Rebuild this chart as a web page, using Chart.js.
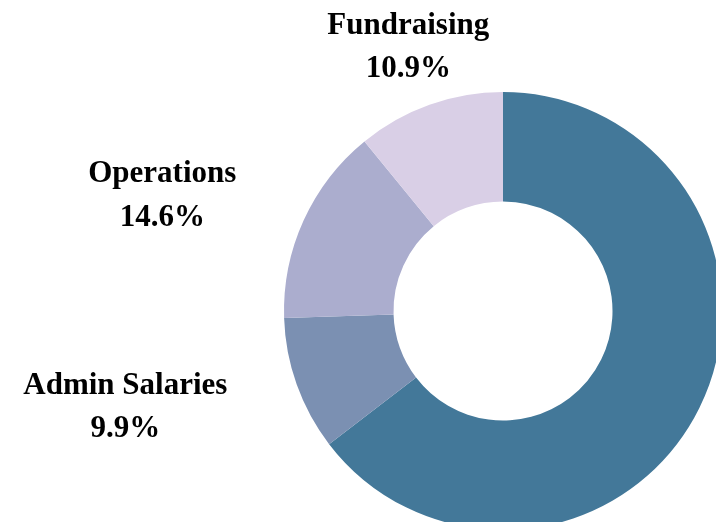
<!DOCTYPE html>
<html>
<head>
<meta charset="utf-8">
<script src="https://cdn.jsdelivr.net/npm/chart.js@4/dist/chart.umd.min.js"></script>
<style>
  html, body { margin: 0; padding: 0; background: #ffffff; overflow: hidden; width: 716px; height: 522px; }
  #wrap { position: absolute; left: 0; top: 0; width: 760px; height: 560px; }
</style>
</head>
<body>
<div id="wrap"><canvas id="c" width="760" height="560"></canvas></div>
<script>
const categories = ["Programs", "Admin Salaries", "Operations", "Fundraising"];
const shares = [64.6, 9.9, 14.6, 10.9];
const sliceColors = ["#437899", "#7b90b2", "#abadce", "#d9cfe6"];

const outsideLabels = {
  id: 'outsideLabels',
  afterDatasetsDraw(chart, args, opts) {
    const ctx = chart.ctx;
    const meta = chart.getDatasetMeta(0);
    const total = shares.reduce((a, b) => a + b, 0);
    ctx.save();
    ctx.font = 'bold ' + opts.fontSize + 'px "Liberation Serif", "Times New Roman", serif';
    ctx.fillStyle = '#000000';
    ctx.textBaseline = 'middle';
    ctx.textAlign = 'center';
    meta.data.forEach((arc, i) => {
      const p = arc.getProps(['x', 'y', 'startAngle', 'endAngle', 'outerRadius'], true);
      const mid = (p.startAngle + p.endAngle) / 2;
      const d = p.outerRadius + opts.distance;
      const ax = p.x + Math.cos(mid) * d;
      const ay = p.y + Math.sin(mid) * d + opts.shiftY;
      const lines = [categories[i], (shares[i] / total * 100).toFixed(1) + '%'];
      const w = Math.max(...lines.map(l => ctx.measureText(l).width));
      let cx = ax;
      const c = Math.cos(mid);
      if (c < -0.5) cx = ax - opts.gap - w / 2;
      else if (c > 0.5) cx = ax + opts.gap + w / 2;
      if (cx - w / 2 > chart.width || cx + w / 2 < 0) return;
      const lh = opts.lineHeight;
      lines.forEach((l, k) => {
        ctx.fillText(l, cx, ay + (k - (lines.length - 1) / 2) * lh);
      });
    });
    ctx.restore();
  }
};

new Chart(document.getElementById('c'), {
  type: 'doughnut',
  data: {
    labels: categories,
    datasets: [{
      data: shares,
      backgroundColor: sliceColors,
      borderWidth: 0,
      hoverOffset: 0,
      offset: 0
    }]
  },
  options: {
    responsive: false,
    animation: false,
    cutout: '50%',
    layout: { padding: { left: 284, top: 92, right: 38, bottom: 30 } },
    plugins: {
      legend: { display: false },
      tooltip: { enabled: false },
      outsideLabels: { fontSize: 31, distance: 63, gap: 10, lineHeight: 43.5, shiftY: 2 }
    }
  },
  plugins: [outsideLabels]
});
</script>
</body>
</html>
